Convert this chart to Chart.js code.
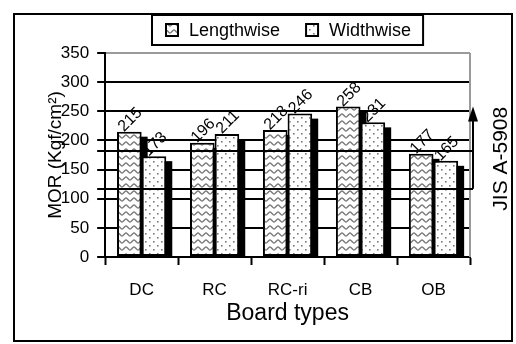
<!DOCTYPE html>
<html>
<head>
<meta charset="utf-8">
<script src="https://cdn.jsdelivr.net/npm/chart.js@4.4.1/dist/chart.umd.min.js"></script>
<style>
  html, body { margin: 0; padding: 0; background: #fff; }
  #wrap { width: 516px; height: 344px; }
</style>
</head>
<body>
<div id="wrap"><canvas id="c" width="516" height="344"></canvas></div>
<script>
// Modulus of rupture by board type, in two cutting directions
const boardTypes = ['DC', 'RC', 'RC-ri', 'CB', 'OB'];
const lengthwise = [215, 196, 218, 258, 177];
const widthwise  = [173, 211, 246, 231, 165];

// Value axis range
const yMin = 0;
const yMax = 350;
const yStep = 50;

// Standard requirement band and its arrow
const jisLevels = [117, 182];
const jisArrowTop = 258;
const jisLabel = 'JIS A-5908';

const FONT = '"Liberation Sans", Arial, sans-serif';

// Fill patterns for the two series
function wavePattern(ctx) {
  const t = document.createElement('canvas');
  t.width = 8; t.height = 7;
  const g = t.getContext('2d');
  g.fillStyle = '#fff';
  g.fillRect(0, 0, 8, 7);
  g.strokeStyle = '#7a7a7a';
  g.lineWidth = 1.4;
  g.beginPath();
  for (let x = -1; x <= 9; x += 0.5) {
    const y = 3.5 + 1.5 * Math.sin(2 * Math.PI * x / 8);
    if (x === -1) g.moveTo(x, y); else g.lineTo(x, y);
  }
  g.stroke();
  return ctx.createPattern(t, 'repeat');
}

function dotPattern(ctx) {
  const t = document.createElement('canvas');
  t.width = 8; t.height = 8;
  const g = t.getContext('2d');
  g.fillStyle = '#fff';
  g.fillRect(0, 0, 8, 8);
  g.fillStyle = '#7a7a7a';
  g.fillRect(1, 1, 1.6, 1.6);
  g.fillRect(5, 5, 1.6, 1.6);
  return ctx.createPattern(t, 'repeat');
}

const canvas = document.getElementById('c');
const ctx2d = canvas.getContext('2d');
const waveFill = wavePattern(ctx2d);
const dotFill = dotPattern(ctx2d);

const decor = {
  id: 'decor',
  beforeDraw(chart) {
    const c = chart.ctx;
    c.save();
    c.fillStyle = '#fff';
    c.fillRect(0, 0, chart.width, chart.height);
    c.restore();
  },
  // dark drop shadow behind each bar
  beforeDatasetsDraw(chart) {
    const c = chart.ctx;
    const area = chart.chartArea;
    c.save();
    c.beginPath();
    c.rect(area.left, area.top, area.right - area.left + 10, area.bottom - area.top);
    c.clip();
    c.fillStyle = '#000';
    chart.data.datasets.forEach((ds, di) => {
      chart.getDatasetMeta(di).data.forEach(bar => {
        const w = bar.width;
        const top = bar.y + 5;
        c.fillRect(bar.x - w / 2 + 6, top, w, bar.base - top);
      });
    });
    c.restore();
  },
  afterDatasetsDraw(chart) {
    const c = chart.ctx;
    const area = chart.chartArea;
    const y = chart.scales.y;
    c.save();

    // grey right edge of the plot
    c.strokeStyle = '#9a9a9a';
    c.lineWidth = 2;
    c.beginPath();
    c.moveTo(area.right, area.top);
    c.lineTo(area.right, area.bottom);
    c.stroke();

    // requirement band lines and arrow
    const ax = area.right + 3;
    c.strokeStyle = '#000';
    c.lineWidth = 2;
    jisLevels.forEach(v => {
      const py = Math.round(y.getPixelForValue(v));
      c.beginPath();
      c.moveTo(area.left - 8, py);
      c.lineTo(ax, py);
      c.stroke();
    });
    const yLow = y.getPixelForValue(Math.min(...jisLevels));
    const yTip = y.getPixelForValue(jisArrowTop);
    c.beginPath();
    c.moveTo(ax, yLow);
    c.lineTo(ax, yTip + 12);
    c.stroke();
    c.fillStyle = '#000';
    c.beginPath();
    c.moveTo(ax, yTip);
    c.lineTo(ax - 5, yTip + 15);
    c.lineTo(ax + 5, yTip + 15);
    c.closePath();
    c.fill();

    // rotated value labels above the bars
    c.fillStyle = '#000';
    c.font = '16px ' + FONT;
    c.textAlign = 'center';
    c.textBaseline = 'middle';
    chart.data.datasets.forEach((ds, di) => {
      chart.getDatasetMeta(di).data.forEach((bar, i) => {
        c.save();
        c.translate(bar.x + 1, bar.y - 12);
        c.rotate(-Math.PI / 4);
        c.fillText(String(ds.data[i]), 0, 0);
        c.restore();
      });
    });

    // standard name at the right
    c.save();
    c.font = '21px ' + FONT;
    c.translate(501, (yTip + yLow) / 2 + 11);
    c.rotate(-Math.PI / 2);
    c.textAlign = 'center';
    c.textBaseline = 'middle';
    c.fillText(jisLabel, 0, 0);
    c.restore();

    // outer frame
    c.strokeStyle = '#000';
    c.lineWidth = 2;
    c.strokeRect(14, 14, 498, 327);

    // legend
    c.font = '18px ' + FONT;
    const items = chart.data.datasets.map(ds => ({ text: ds.label, fill: ds.backgroundColor }));
    const icon = 12, iconGap = 11, itemGap = 26, padL = 14, padR = 12;
    const widths = items.map(it => c.measureText(it.text).width);
    const inner = widths.reduce((s, w) => s + icon + iconGap + w, 0) + itemGap * (items.length - 1);
    const boxW = inner + padL + padR;
    const cx = (area.left + area.right) / 2;
    const bx = Math.round(cx - boxW / 2);
    const by = 15, bh = 30;
    c.fillStyle = '#fff';
    c.fillRect(bx, by, boxW, bh);
    c.strokeRect(bx, by, boxW, bh);
    let x = bx + padL;
    const my = by + bh / 2;
    items.forEach((it, k) => {
      c.fillStyle = it.fill;
      c.fillRect(x, my - icon / 2, icon, icon);
      c.strokeStyle = '#000';
      c.lineWidth = 2;
      c.strokeRect(x, my - icon / 2, icon, icon);
      c.fillStyle = '#000';
      c.textAlign = 'left';
      c.textBaseline = 'middle';
      c.fillText(it.text, x + icon + iconGap, my + 1);
      x += icon + iconGap + widths[k] + itemGap;
    });

    c.restore();
  }
};

new Chart(canvas, {
  type: 'bar',
  data: {
    labels: boardTypes,
    datasets: [
      { label: 'Lengthwise', data: lengthwise, backgroundColor: waveFill,
        borderColor: '#000', borderWidth: 2, borderSkipped: false },
      { label: 'Widthwise', data: widthwise, backgroundColor: dotFill,
        borderColor: '#000', borderWidth: 2, borderSkipped: false }
    ]
  },
  options: {
    responsive: false,
    animation: false,
    devicePixelRatio: 1,
    categoryPercentage: 0.675,
    barPercentage: 1.0,
    layout: { padding: { left: 16, right: 46, top: 53, bottom: 13 } },
    plugins: { legend: { display: false }, tooltip: { enabled: false } },
    scales: {
      x: {
        grid: { display: true, drawOnChartArea: false, drawTicks: true, tickLength: 8,
                tickWidth: 2, tickColor: '#000', offset: true },
        border: { display: true, color: '#000', width: 2 },
        ticks: { color: '#000', font: { family: FONT, size: 17 }, padding: 15 },
        title: { display: true, text: 'Board types', color: '#000',
                 font: { family: FONT, size: 23 }, padding: { top: -16, bottom: 4 } }
      },
      y: {
        min: yMin, max: yMax,
        ticks: { stepSize: yStep, color: '#000', font: { family: FONT, size: 17 }, padding: 8 },
        grid: {
          color: c => (c.tick && c.tick.value === yMax) ? '#9a9a9a' : '#000',
          lineWidth: 2, tickColor: '#000', tickLength: 8, tickWidth: 2
        },
        border: { display: true, color: '#000', width: 2 },
        title: { display: true, text: 'MOR (Kgf/cm²)', color: '#000',
                 font: { family: FONT, size: 19 }, padding: { top: 28, bottom: -14 } }
      }
    }
  },
  plugins: [decor]
});
</script>
</body>
</html>
